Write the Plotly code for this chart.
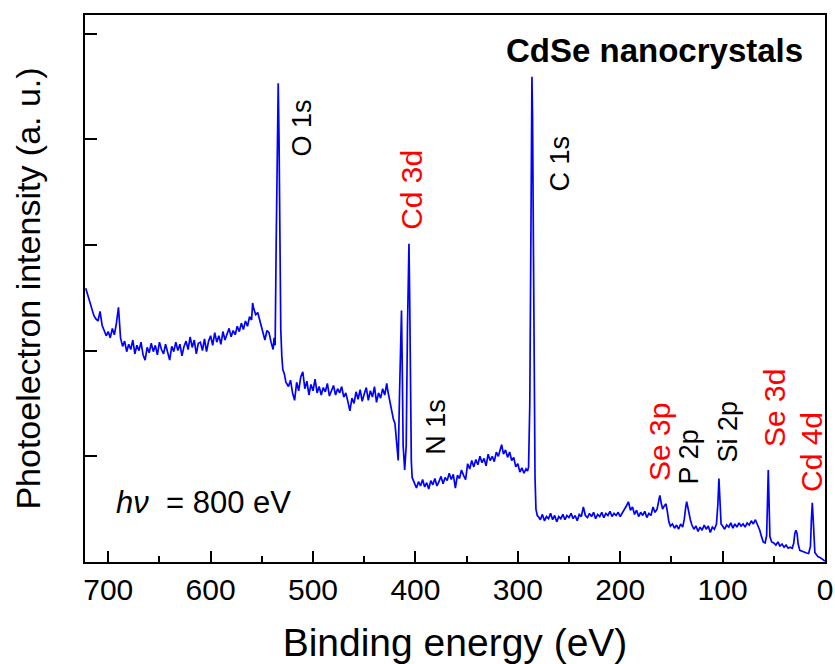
import plotly.graph_objects as go

# ---- data (binding energy in eV, photoelectron intensity in a.u.) ----
energy_A = [722, 720, 718, 716, 714, 712, 710, 708, 706, 704, 702, 700, 698, 696, 694, 692, 690, 688, 686, 684,
            682, 680, 678, 676, 674, 672, 670, 668, 666, 664, 662, 660, 658, 656, 654, 652, 650, 648, 646, 644,
            642, 640, 638, 636, 634, 632, 630, 628, 626, 624, 622, 620, 618, 616, 614, 612, 610, 608, 606, 604,
            602, 600, 598, 596, 594, 592, 590, 588, 586, 584, 582, 580, 578, 576, 574, 572, 570, 568, 566, 564,
            562, 560, 559, 558, 556, 554, 552, 550, 548, 547, 545, 543, 541, 539, 538, 537]
inten_A = [2.59, 2.53, 2.45, 2.41, 2.33, 2.30, 2.28, 2.37, 2.24, 2.19, 2.14, 2.18, 2.12, 2.21, 2.15, 2.26, 2.41, 2.12, 2.04, 2.09,
           1.99, 2.06, 2.01, 2.10, 1.97, 2.05, 2.00, 2.08, 1.96, 1.91, 2.03, 1.98, 2.07, 1.99, 2.05, 1.96, 2.08, 2.01, 1.97, 2.06,
           1.98, 1.91, 2.04, 1.99, 2.08, 2.00, 2.06, 1.95, 2.04, 2.09, 2.01, 2.13, 2.03, 2.10, 1.97, 2.07, 2.08, 2.00, 2.11, 1.99,
           2.09, 2.14, 2.05, 2.17, 2.08, 2.14, 2.06, 2.18, 2.10, 2.15, 2.21, 2.13, 2.19, 2.15, 2.23, 2.18, 2.26, 2.20, 2.28, 2.23,
           2.32, 2.29, 2.45, 2.40, 2.34, 2.36, 2.28, 2.22, 2.14, 2.10, 2.19, 2.17, 2.08, 2.01, 2.12, 2.05]

energy_O1s = [536, 535, 534, 533.2, 532.3, 531.5, 530.5, 529.5, 528, 526.5]
inten_O1s = [3.0, 4.0, 4.53, 4.0, 2.8, 2.2, 1.95, 1.82, 1.78, 1.70]

energy_B = [524, 522, 520, 518, 516, 514, 512, 510, 508, 506, 504, 502, 500, 498, 496, 494, 492, 490, 488, 486,
            484, 482, 480, 478, 476, 474, 472, 470, 468, 466, 464, 462, 460, 458, 456, 454, 452, 450, 448, 446,
            444, 442, 440, 438, 436, 434, 432, 430, 428, 427, 425, 423, 421.5, 420, 418.5]
inten_B = [1.66, 1.72, 1.60, 1.53, 1.70, 1.62, 1.75, 1.80, 1.64, 1.71, 1.58, 1.68, 1.62, 1.73, 1.60, 1.66, 1.58, 1.65, 1.61, 1.69,
           1.57, 1.63, 1.67, 1.58, 1.64, 1.60, 1.66, 1.56, 1.60, 1.52, 1.43, 1.55, 1.50, 1.61, 1.54, 1.63, 1.52, 1.59, 1.65, 1.53,
           1.62, 1.56, 1.66, 1.51, 1.60, 1.55, 1.64, 1.58, 1.69, 1.62, 1.52, 1.41, 1.35, 1.31, 1.15]

energy_Cd3d = [416.8, 415.5, 414.3, 413.6, 412.8, 412, 410.5, 409, 407.8, 406.9, 406.3, 405.6, 404.8, 404, 403.2]
inten_Cd3d = [0.96, 1.6, 2.2, 2.38, 1.8, 1.1, 0.87, 1.1, 2.2, 2.8, 3.01, 2.5, 1.5, 0.95, 0.80]

energy_C = [401, 399, 397, 395, 393, 391, 389, 387, 385, 383, 381, 379, 377, 375, 373, 371, 369, 367, 365, 363,
            361, 359, 357, 355, 353, 351, 349, 347, 345, 343, 341, 339, 337, 335, 333, 331, 329, 327, 325, 323,
            321, 319, 317, 315.8, 314, 312, 310, 308, 306, 304, 302, 300, 298, 296, 294, 292, 290.5]
inten_C = [0.74, 0.70, 0.76, 0.72, 0.78, 0.71, 0.75, 0.69, 0.77, 0.73, 0.79, 0.72, 0.76, 0.81, 0.74, 0.80, 0.77, 0.84, 0.78, 0.83,
           0.70, 0.82, 0.79, 0.87, 0.82, 0.78, 0.93, 0.88, 0.96, 0.90, 0.97, 0.92, 1.00, 0.94, 0.98, 0.91, 1.02, 0.96, 1.00, 0.95,
           1.04, 1.00, 1.07, 1.11, 1.02, 1.06, 0.99, 1.04, 0.96, 0.99, 0.90, 0.93, 0.85, 0.89, 0.84, 0.88, 0.86]

energy_C1s = [289.5, 288.3, 287.5, 286.8, 286.2, 285.6, 284.8, 284.0, 283.2, 282.3, 281]
inten_C1s = [0.90, 1.5, 3.0, 4.2, 4.59, 4.2, 3.0, 1.5, 0.80, 0.50, 0.44]

energy_D = [280, 278, 276, 274, 272, 270, 268, 266, 264, 262, 260, 258, 256, 254, 252, 250, 248, 246, 244, 242,
            240, 238, 236, 234, 232, 230, 228, 226, 224, 222, 220, 218, 216, 214, 212, 210, 208, 206, 204, 202,
            200, 198, 196, 194, 192, 190, 188, 186, 184, 182, 180, 178, 176, 174, 172, 170, 168, 166, 164, 162.5,
            161.3, 160, 158.6, 157, 155.3, 154, 152.5, 151, 149, 147, 145, 143, 141, 139, 137.5, 136, 135.1, 134, 132.8, 131.5,
            130, 128, 126, 124, 122, 120, 118, 116, 114, 112, 110, 108, 106, 104.6, 103.6, 102.6, 101.5, 100, 98, 96,
            94, 92, 90, 88, 86, 84, 82, 80, 78, 76, 74, 72, 70, 68, 66.7, 65, 63.7, 62, 60.3, 58.5,
            57, 56.2, 55.4, 54.6, 53.8, 52.1, 50, 48, 46, 44, 42, 40, 38, 36, 34, 32, 30.5, 29.5, 28.4, 27.3,
            26.2, 24.6, 22.5, 20.5, 18, 16, 14.2, 13.3, 12.4, 11.5, 10.6, 9.9, 8.5, 6.7, 4.5, 1.8, 0]
inten_D = [0.43, 0.40, 0.45, 0.39, 0.43, 0.41, 0.46, 0.40, 0.44, 0.38, 0.43, 0.41, 0.45, 0.40, 0.44, 0.42, 0.46, 0.41, 0.44, 0.39,
           0.45, 0.43, 0.52, 0.44, 0.42, 0.46, 0.43, 0.47, 0.41, 0.45, 0.43, 0.47, 0.42, 0.46, 0.44, 0.48, 0.43, 0.46, 0.44, 0.47,
           0.43, 0.46, 0.50, 0.53, 0.57, 0.49, 0.52, 0.45, 0.49, 0.43, 0.47, 0.44, 0.48, 0.42, 0.46, 0.44, 0.52, 0.47, 0.50, 0.58,
           0.63, 0.56, 0.50, 0.53, 0.55, 0.48, 0.38, 0.34, 0.36, 0.32, 0.35, 0.31, 0.36, 0.33, 0.40, 0.52, 0.57, 0.52, 0.45, 0.40,
           0.35, 0.31, 0.34, 0.29, 0.33, 0.30, 0.35, 0.31, 0.34, 0.28, 0.33, 0.31, 0.36, 0.55, 0.79, 0.55, 0.36, 0.34, 0.31, 0.35,
           0.33, 0.37, 0.32, 0.36, 0.33, 0.37, 0.34, 0.36, 0.33, 0.37, 0.35, 0.39, 0.36, 0.40, 0.37, 0.34, 0.30, 0.24, 0.19, 0.18,
           0.25, 0.55, 0.87, 0.55, 0.24, 0.19, 0.18, 0.16, 0.19, 0.15, 0.17, 0.14, 0.16, 0.13, 0.14, 0.13, 0.18, 0.27, 0.30, 0.27,
           0.17, 0.11, 0.10, 0.09, 0.085, 0.08, 0.15, 0.40, 0.56, 0.40, 0.15, 0.09, 0.07, 0.05, 0.04, 0.02, 0.01]

energy = energy_A + energy_O1s + energy_B + energy_Cd3d + energy_C + energy_C1s + energy_D
intensity = inten_A + inten_O1s + inten_B + inten_Cd3d + inten_C + inten_C1s + inten_D

# peak labels
peak_labels = ["O 1s", "Cd 3d", "C 1s", "N 1s", "Se 3p", "P 2p", "Si 2p", "Se 3d", "Cd 4d"]
peak_x = [510.8, 403.4, 258.8, 379.9, 162.1, 132.8, 95.2, 48.8, 13.7]
peak_y = [4.11, 3.52, 3.77, 1.28, 1.135, 0.99, 1.23, 1.457, 1.04]
peak_red = [False, True, False, False, True, False, False, True, True]

FONT = "Liberation Sans, Arial, sans-serif"

fig = go.Figure()
fig.add_trace(go.Scatter(x=energy, y=intensity, mode="lines",
                         line=dict(color="#0000FF", width=1.7), showlegend=False,
                         hoverinfo="skip"))

for txt, px, py, red in zip(peak_labels, peak_x, peak_y, peak_red):
    fig.add_annotation(x=px, y=py, text=txt, textangle=-90, showarrow=False,
                       xanchor="center", yanchor="middle",
                       font=dict(family=FONT, size=30 if red else 27,
                                 color="#FF0000" if red else "#000000"))

fig.add_annotation(x=19.5, y=4.84, text="<b>CdSe nanocrystals</b>", showarrow=False,
                   xanchor="right", yanchor="middle",
                   font=dict(family=FONT, size=33, color="#000000"))
fig.add_annotation(x=606.5, y=0.56, text="<i>hν</i>&nbsp; = 800 eV", showarrow=False,
                   xanchor="center", yanchor="middle",
                   font=dict(family=FONT, size=31, color="#000000"))

axis_common = dict(showgrid=False, zeroline=False, showline=True, linecolor="black",
                   linewidth=1.8, mirror=True, ticks="inside", tickcolor="black",
                   tickwidth=1.5, automargin=False)

fig.update_xaxes(range=[722.7, 0], dtick=100, tick0=0, ticklen=11,
                 minor=dict(ticks="inside", dtick=50, ticklen=6, tickcolor="black", tickwidth=1.5),
                 tickfont=dict(family=FONT, size=30, color="black"),
                 title=dict(text="Binding energy (eV)", font=dict(family=FONT, size=39, color="black"),
                            standoff=26),
                 **axis_common)
fig.update_yaxes(range=[0, 5.175], dtick=1, tick0=0, ticklen=12, showticklabels=False,
                 title=dict(text="Photoelectron intensity (a. u.)",
                            font=dict(family=FONT, size=34, color="black"), standoff=32),
                 **axis_common)

fig.update_layout(width=835, height=664, margin=dict(l=85, r=10, t=15, b=102),
                  paper_bgcolor="white", plot_bgcolor="white")

fig.write_html("out.html")
